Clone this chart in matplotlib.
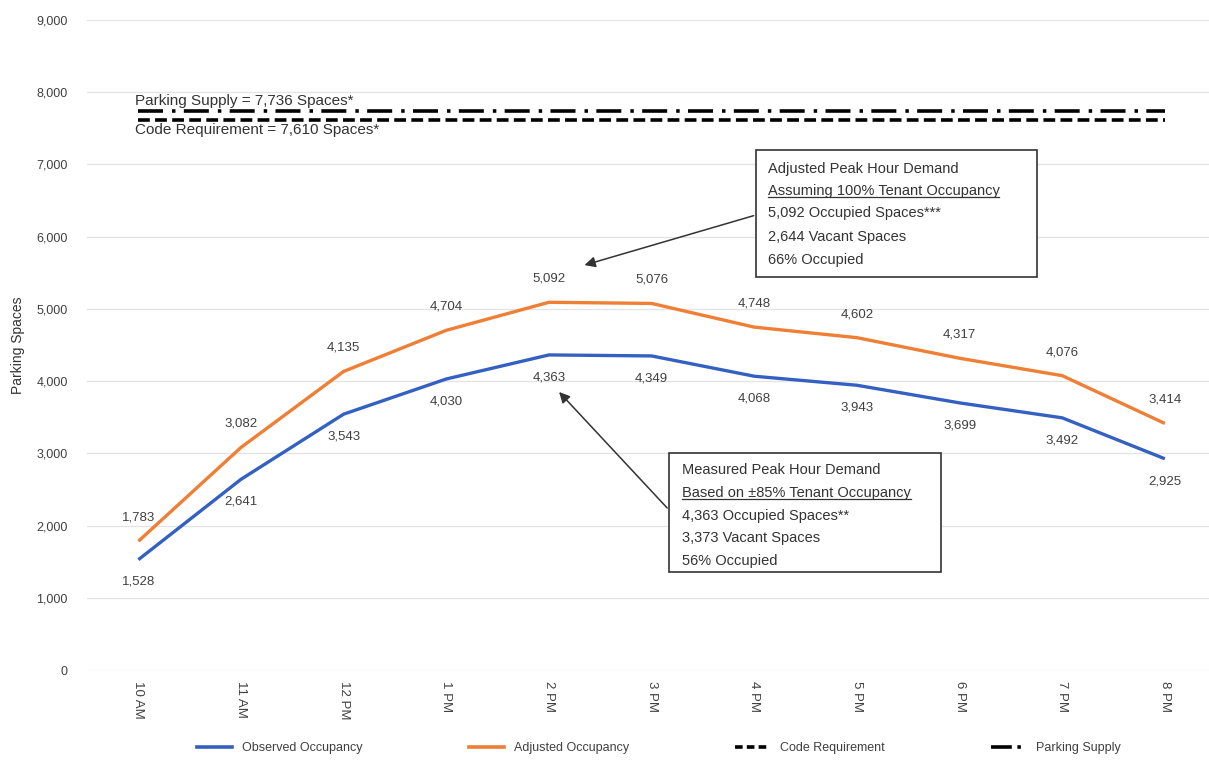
import matplotlib
matplotlib.use("Agg")
import matplotlib.pyplot as plt
from matplotlib.lines import Line2D
from matplotlib.patches import Rectangle

plt.rcParams['font.family'] = ['Liberation Sans', 'DejaVu Sans']
plt.rcParams['lines.scale_dashes'] = False

# data
hours = ['10 AM', '11 AM', '12 PM', '1 PM', '2 PM', '3 PM', '4 PM', '5 PM', '6 PM', '7 PM', '8 PM']
observed = [1528, 2641, 3543, 4030, 4363, 4349, 4068, 3943, 3699, 3492, 2925]
adjusted = [1783, 3082, 4135, 4704, 5092, 5076, 4748, 4602, 4317, 4076, 3414]
code_requirement = 7610
parking_supply = 7736

supply_text = 'Parking Supply = 7,736 Spaces*'
code_text = 'Code Requirement = 7,610 Spaces*'
box_adjusted = ['Adjusted Peak Hour Demand', 'Assuming 100% Tenant Occupancy',
                '5,092 Occupied Spaces***', '2,644 Vacant Spaces', '66% Occupied']
box_measured = ['Measured Peak Hour Demand', 'Based on \u00b185% Tenant Occupancy',
                '4,363 Occupied Spaces**', '3,373 Vacant Spaces', '56% Occupied']

blue = '#3461c1'
orange = '#ef7f35'
txt = '#404040'

fig = plt.figure(figsize=(12.09, 7.62), dpi=100)
ax = fig.add_axes([0.072, 0.1207, 0.928, 0.853])

x = list(range(len(hours)))
ax.plot(x, observed, color=blue, lw=2.4, solid_capstyle='butt', zorder=3)
ax.plot(x, adjusted, color=orange, lw=2.4, solid_capstyle='butt', zorder=3)
ax.plot([x[0], x[-1]], [code_requirement] * 2, color='black', lw=2.6, dashes=(8.5, 3.8))
ax.plot([x[0], x[-1]], [parking_supply] * 2, color='black', lw=2.6, dashes=(18, 6.5, 2.5, 6))

# point labels
for i in x:
    ax.annotate(f'{adjusted[i]:,}', (i, adjusted[i]), xytext=(0, 17), textcoords='offset points',
                ha='center', va='center', fontsize=9.5, color=txt)
    ax.annotate(f'{observed[i]:,}', (i, observed[i]), xytext=(0, -16), textcoords='offset points',
                ha='center', va='center', fontsize=9.5, color=txt)

ax.text(-0.03, 7880, supply_text, fontsize=11, color='#333333', va='center', ha='left')
ax.text(-0.03, 7480, code_text, fontsize=11, color='#333333', va='center', ha='left')

# callout boxes
underlines = []
for (left, right, top, bottom, tx, ys, lines) in [
        (6.02, 8.75, 7202, 5443, 6.13, [6939, 6634, 6330, 5997, 5679], box_adjusted),
        (5.17, 7.82, 3006, 1357, 5.30, [2770, 2452, 2133, 1828, 1510], box_measured)]:
    ax.add_patch(Rectangle((left, bottom), right - left, top - bottom, facecolor='white',
                           edgecolor='#333333', lw=1.2, zorder=4))
    for k, (yy, s) in enumerate(zip(ys, lines)):
        t = ax.text(tx, yy, s, fontsize=10.5, color='#333333', va='center', ha='left', zorder=5)
        if k == 1:
            underlines.append(t)

ax.annotate('', xy=(4.32, 5596), xytext=(6.02, 6302),
            arrowprops=dict(arrowstyle='-|>', color='#333333', lw=1.1, mutation_scale=16), zorder=4)
ax.annotate('', xy=(4.08, 3878), xytext=(5.17, 2216),
            arrowprops=dict(arrowstyle='-|>', color='#333333', lw=1.1, mutation_scale=16), zorder=4)

ax.set_xlim(-0.5, 10.43)
ax.set_ylim(0, 9000)
ax.set_yticks(range(0, 9001, 1000))
ax.set_yticklabels([f'{v:,}' for v in range(0, 9001, 1000)], fontsize=9, color=txt)
ax.set_xticks(x)
ax.set_xticklabels(hours, rotation=270, fontsize=9.5, color=txt)
ax.tick_params(length=0)
ax.tick_params(axis='y', pad=14)
ax.tick_params(axis='x', pad=8)
ax.grid(axis='y', color='#e3e3e3', lw=0.9)
ax.set_axisbelow(True)
for sp in ax.spines.values():
    sp.set_visible(False)
ax.set_ylabel('Parking Spaces', fontsize=10, color='#333333')
ax.yaxis.set_label_coords(-0.055, 0.5)

handles = [
    Line2D([], [], color=blue, lw=2.6),
    Line2D([], [], color=orange, lw=2.6),
    Line2D([], [], color='black', lw=2.6, dashes=(5.5, 3)),
    Line2D([], [], color='black', lw=2.6, dashes=(15, 4, 2.5, 6)),
]
labels = ['Observed Occupancy', 'Adjusted Occupancy', 'Code Requirement', 'Parking Supply']
fig.legend(handles, labels, loc='center', bbox_to_anchor=(0.545, 0.018), ncol=4, frameon=False,
           fontsize=9, handlelength=2.8, columnspacing=8.5, labelcolor=txt)

# underline second line of each box
fig.canvas.draw()
r = fig.canvas.get_renderer()
for t in underlines:
    bb = t.get_window_extent(r).transformed(fig.transFigure.inverted())
    yline = bb.y0 + 0.0015
    fig.add_artist(Line2D([bb.x0, bb.x1], [yline, yline], color='#333333', lw=0.9, zorder=6))

fig.savefig('out.png', dpi=100)
